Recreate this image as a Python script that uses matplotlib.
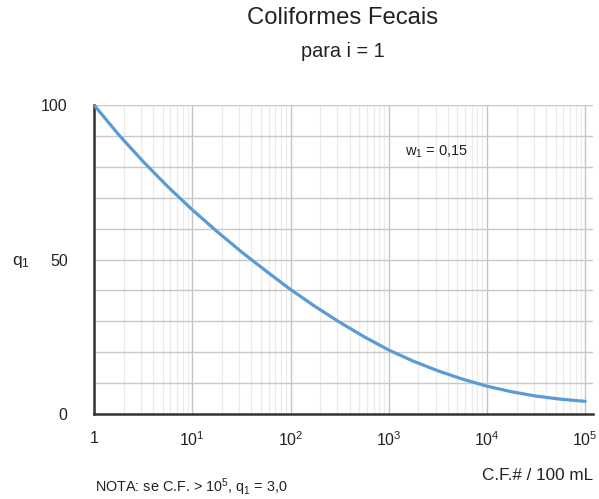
import matplotlib
matplotlib.use("Agg")
import matplotlib.pyplot as plt
from matplotlib.ticker import FixedLocator, NullFormatter, LogLocator

plt.rcParams["font.family"] = ["Liberation Sans", "DejaVu Sans"]
plt.rcParams["mathtext.fontset"] = "custom"
plt.rcParams["mathtext.rm"] = "Liberation Sans"
plt.rcParams["mathtext.it"] = "Liberation Sans"

# Fecal coliform density (C.F.# / 100 mL), quarter-decade steps,
# and the quality sub-index q1
cf = [1, 1.78, 3.16, 5.62, 10, 17.8, 31.6, 56.2, 100, 178, 316, 562,
      1000, 1780, 3160, 5620, 1e4, 17800, 31600, 56200, 1e5]
q1 = [100, 90.4, 81.7, 73.6, 66.1, 59.1, 52.5, 46.3, 40.3, 34.8, 29.7,
      25.0, 20.7, 17.1, 14.0, 11.3, 9.0, 7.2, 5.8, 4.8, 4.1]

x_ticks = [1, 10, 100, 1000, 1e4, 1e5]
x_labels = ["1", "$10^{1}$", "$10^{2}$", "$10^{3}$", "$10^{4}$", "$10^{5}$"]
y_ticks = [0, 50, 100]
y_labels = ["0", "50", "100"]

fig = plt.figure(figsize=(5.99, 4.99), dpi=100)
ax = fig.add_axes([0.157, 0.1703, 0.833, 0.6193])

ax.set_xscale("log")
ax.set_xlim(1, 1.2e5)
ax.set_ylim(0, 100)

ax.xaxis.set_major_locator(FixedLocator(x_ticks))
ax.set_xticklabels(x_labels)
ax.xaxis.set_minor_locator(LogLocator(base=10, subs=range(2, 10)))
ax.xaxis.set_minor_formatter(NullFormatter())
ax.yaxis.set_major_locator(FixedLocator(y_ticks))
ax.set_yticklabels(y_labels)
ax.yaxis.set_minor_locator(FixedLocator(range(0, 101, 10)))

ax.grid(True, which="major", axis="x", color="#c4c4c4", lw=1.0)
ax.grid(True, which="minor", axis="x", color="#ebebeb", lw=0.9)
ax.grid(True, which="both", axis="y", color="#c8c8c8", lw=1.0)
ax.set_axisbelow(True)

ax.tick_params(which="both", length=0)
ax.tick_params(axis="y", pad=19, labelsize=11.5, colors="#222222")
ax.tick_params(axis="x", pad=12, labelsize=11.5, colors="#222222")

for s in ("top", "right"):
    ax.spines[s].set_visible(False)
for s in ("left", "bottom"):
    ax.spines[s].set_color("#333333")
    ax.spines[s].set_linewidth(1.8)

ax.plot(cf, q1, color="#5b9bd5", lw=2.3, solid_capstyle="round",
        solid_joinstyle="round", zorder=3)

ax.text(1.46e3, 84.8, "w$_{1}$ = 0,15", fontsize=10.5, color="#222222",
        va="center", ha="left")

fig.text(0.572, 0.963, "Coliformes Fecais", fontsize=17.2, ha="center",
         va="center", color="#222222")
fig.text(0.572, 0.896, "para i = 1", fontsize=14.3, ha="center",
         va="center", color="#222222")
fig.text(0.035, 0.475, "q$_{1}$", fontsize=12.5, ha="center", va="center",
         color="#222222")
fig.text(0.99, 0.048, "C.F.# / 100 mL", fontsize=12.3, ha="right",
         va="center", color="#222222")
fig.text(0.158, 0.024, "NOTA: se C.F. > 10$^{5}$, q$_{1}$ = 3,0",
         fontsize=10.4, ha="left", va="center", color="#222222")

fig.savefig("out.png", dpi=100, facecolor="white")
